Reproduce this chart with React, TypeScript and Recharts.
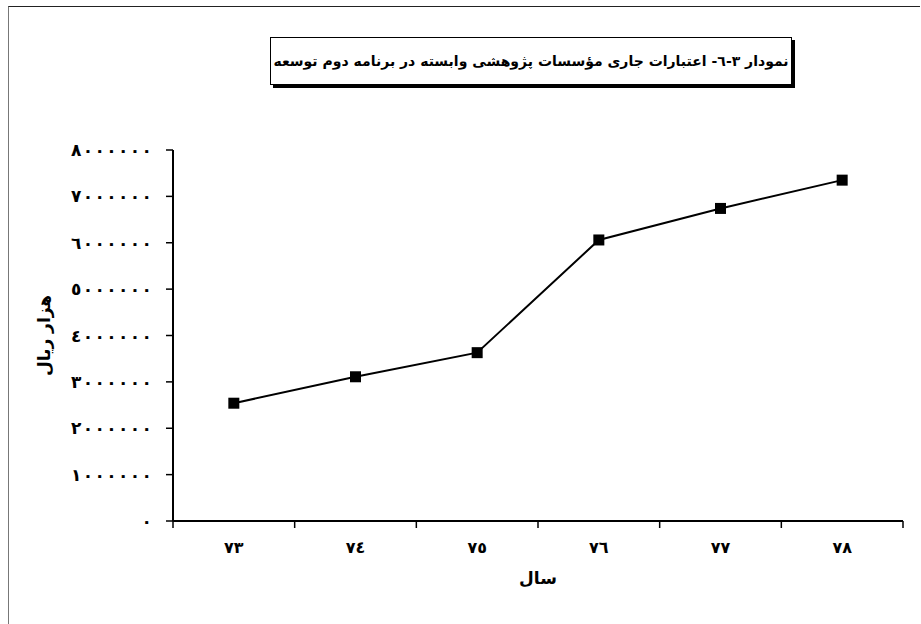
import { LineChart, Line, XAxis, YAxis, Label } from "recharts";

// سال‌ها و اعتبارات (هزار ریال)
const years = ["٧٣", "٧٤", "٧٥", "٧٦", "٧٧", "٧٨"];
const credits = [2540000, 3110000, 3630000, 6060000, 6740000, 7350000];
const yTicks = [0, 1000000, 2000000, 3000000, 4000000, 5000000, 6000000, 7000000, 8000000];

const TITLE = "نمودار ٣-٦- اعتبارات جاری مؤسسات پژوهشی وابسته در برنامه دوم توسعه";
const Y_TITLE = "هزار ریال";
const X_TITLE = "سال";

const FONT = "'DejaVu Sans', sans-serif";
const TICK = 7;
const GAP = 14;

const data = years.map((year, i) => ({ year, value: credits[i] }));

const toArabicDigits = (n: number) =>
  String(n).replace(/[0-9]/g, (d) => String.fromCharCode(0x0660 + Number(d)));

function YearTick(props: any) {
  const { x, y, payload, index, visibleTicksCount } = props;
  const half = payload.offset ?? 0;
  const top = y - TICK - GAP;
  const last = index === visibleTicksCount - 1;
  return (
    <g>
      <line x1={x - half} x2={x - half} y1={top} y2={top + TICK} stroke="#000" strokeWidth={1.5} />
      {last && (
        <line x1={x + half} x2={x + half} y1={top} y2={top + TICK} stroke="#000" strokeWidth={1.5} />
      )}
      <text x={x} y={y} dy="0.71em" textAnchor="middle" fontSize={16} fontWeight="bold" fill="#000" fontFamily={FONT}>
        {payload.value}
      </text>
    </g>
  );
}

function ValueTick(props: any) {
  const { x, y, payload } = props;
  const label = toArabicDigits(payload.value);
  const len = label.length > 1 ? label.length * 12 - 3 : undefined;
  return (
    <text
      x={x}
      y={y}
      dy="0.355em"
      textAnchor="end"
      fontSize={17}
      fontWeight="bold"
      fill="#000"
      fontFamily={FONT}
      textLength={len}
      lengthAdjust="spacing"
    >
      {label}
    </text>
  );
}

function SquareDot(props: any) {
  const { cx, cy } = props;
  if (cx == null || cy == null) return null;
  return <rect x={cx - 5.5} y={cy - 5.5} width={11} height={11} fill="#000" />;
}

export default function App() {
  return (
    <div style={{ position: "absolute", left: 0, top: 0, width: 921, height: 624, background: "#fff", fontFamily: FONT }}>
      <div
        dir="rtl"
        style={{
          position: "absolute",
          left: 270,
          top: 37,
          width: 520,
          height: 46,
          border: "1.5px solid #000",
          boxShadow: "3px 3px 0 #000",
          display: "flex",
          alignItems: "center",
          justifyContent: "center",
          fontWeight: "bold",
          fontSize: 14,
          whiteSpace: "nowrap",
          background: "#fff",
        }}
      >
        {TITLE}
      </div>
      <LineChart width={921} height={624} data={data} margin={{ top: 150, right: 18, bottom: 0, left: 8 }}>
        <XAxis
          dataKey="year"
          scale="band"
          height={103}
          axisLine={{ stroke: "#000", strokeWidth: 2 }}
          tickLine={false}
          tickSize={TICK}
          tickMargin={GAP}
          tick={<YearTick />}
          interval={0}
        >
          <Label
            content={({ viewBox }: any) => (
              <text
                x={viewBox.x + viewBox.width / 2}
                y={579}
                textAnchor="middle"
                dominantBaseline="middle"
                fontSize={17}
                fontWeight="bold"
                fontFamily={FONT}
                fill="#000"
              >
                {X_TITLE}
              </text>
            )}
          />
        </XAxis>
        <XAxis xAxisId="top" orientation="top" height={0} tick={false} tickLine={false} axisLine={{ stroke: "#000", strokeWidth: 2 }} />
        <YAxis
          width={165}
          domain={[0, 8000000]}
          ticks={yTicks}
          interval={0}
          tickSize={TICK}
          tickMargin={GAP}
          tickLine={{ stroke: "#000", strokeWidth: 1.5 }}
          axisLine={{ stroke: "#000", strokeWidth: 2 }}
          tick={<ValueTick />}
        >
          <Label
            content={({ viewBox }: any) => {
              const cx = 45;
              const cy = viewBox.y + viewBox.height / 2;
              return (
                <text
                  x={cx}
                  y={cy}
                  transform={`rotate(-90 ${cx} ${cy})`}
                  textAnchor="middle"
                  dominantBaseline="middle"
                  fontSize={17}
                  fontWeight="bold"
                  fontFamily={FONT}
                  fill="#000"
                >
                  {Y_TITLE}
                </text>
              );
            }}
          />
        </YAxis>
        <YAxis yAxisId="right" orientation="right" width={0} tick={false} tickLine={false} axisLine={{ stroke: "#000", strokeWidth: 2 }} />
        <Line
          type="linear"
          dataKey="value"
          stroke="#000"
          strokeWidth={2}
          dot={<SquareDot />}
          activeDot={false}
          isAnimationActive={false}
        />
      </LineChart>
      <div
        style={{
          position: "absolute",
          left: 8,
          top: 6,
          width: 911,
          height: 618,
          borderTop: "1px solid #222",
          borderLeft: "1px solid #777",
          pointerEvents: "none",
        }}
      />
    </div>
  );
}
